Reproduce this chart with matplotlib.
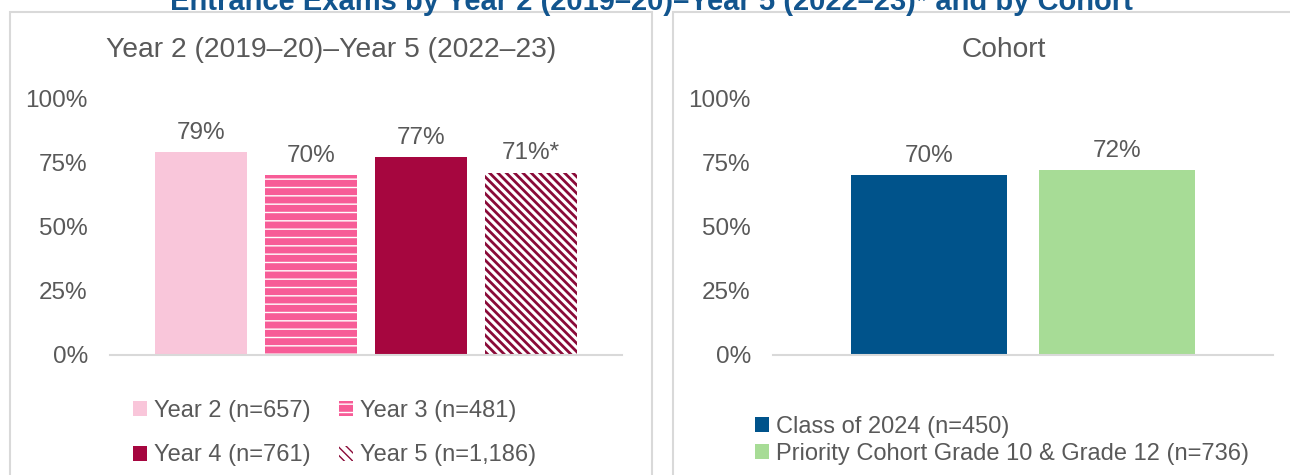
import matplotlib.pyplot as plt
from matplotlib.patches import Rectangle

plt.rcParams['font.family'] = ['Liberation Sans', 'DejaVu Sans']

# data
year_labels = ['Year 2 (n=657)', 'Year 3 (n=481)', 'Year 4 (n=761)', 'Year 5 (n=1,186)']
year_values = [0.79, 0.70, 0.77, 0.71]
year_text = ['79%', '70%', '77%', '71%*']

cohort_labels = ['Class of 2024 (n=450)', 'Priority Cohort Grade 10 & Grade 12 (n=736)']
cohort_values = [0.70, 0.72]
cohort_text = ['70%', '72%']

yticks = [0, 0.25, 0.5, 0.75, 1.0]
ytick_labels = ['0%', '25%', '50%', '75%', '100%']

GRAY = '#595959'
W, H = 1290, 475

fig = plt.figure(figsize=(12.9, 4.75), dpi=100)

# panel frames
for x0, x1 in [(10, 652), (673, 1340)]:
    fig.add_artist(Rectangle((x0 / W, -0.1), (x1 - x0) / W, 1.1 - 12 / H,
                             transform=fig.transFigure, fill=False,
                             ec='#D9D9D9', lw=1.5))

fig.text(651 / W, 1 - 2 / H,
         'Entrance Exams by Year 2 (2019\u201320)\u2013Year 5 (2022\u201323)* and by Cohort',
         ha='center', va='center', fontsize=21, fontweight='bold', color='#12558E')

bottom = 1 - 354.5 / H
height = 256 / H
ax1 = fig.add_axes([110 / W, bottom, 512 / W, height])
ax2 = fig.add_axes([773 / W, bottom, 500 / W, height])


def style(ax):
    for s in ['top', 'right', 'left']:
        ax.spines[s].set_visible(False)
    ax.spines['bottom'].set_color('#D9D9D9')
    ax.spines['bottom'].set_linewidth(1.5)
    ax.set_ylim(0, 1)
    ax.set_yticks(yticks)
    ax.set_yticklabels(ytick_labels)
    ax.tick_params(axis='y', length=0, pad=16, labelsize=17.5, labelcolor=GRAY)
    ax.set_xticks([])


# left panel
pos1 = [-1.5, -0.5, 0.5, 1.5]
face1 = ['#F9C6DA', '#F75C97', '#A6063F', 'white']
edge1 = ['#F9C6DA', 'white', '#A6063F', '#8A0A38']
hatch1 = [None, '--', None, '\\\\\\\\']
hatch_lw = [1, 1.0, 1, 2.0]
for p, v, fc, ec, hc, hl, lab in zip(pos1, year_values, face1, edge1, hatch1,
                                     hatch_lw, year_labels):
    b = ax1.bar(p, v, width=0.836, color=fc, edgecolor=ec, linewidth=0,
                hatch=hc, label=lab)
    for patch in b:
        patch.set_hatch_linewidth(hl)
for p, v, t in zip(pos1, year_values, year_text):
    ax1.annotate(t, (p, v), xytext=(0, 6), textcoords='offset points',
                 ha='center', va='bottom', fontsize=17.5, color=GRAY)
ax1.set_xlim(-256 / 110, 256 / 110)
style(ax1)

# right panel
pos2 = [-0.5, 0.5]
colors2 = ['#00538B', '#A7DC96']
for p, v, c, lab in zip(pos2, cohort_values, colors2, cohort_labels):
    ax2.bar(p, v, width=0.835, color=c, label=lab)
for p, v, t in zip(pos2, cohort_values, cohort_text):
    ax2.annotate(t, (p, v), xytext=(0, 6), textcoords='offset points',
                 ha='center', va='bottom', fontsize=17.5, color=GRAY)
ax2.set_xlim(-250 / 188, 250 / 188)
style(ax2)

# legends
h1, l1 = ax1.get_legend_handles_labels()
order = [0, 2, 1, 3]
leg1 = fig.legend([h1[i] for i in order], [l1[i] for i in order], ncol=2,
                  loc='upper left', bbox_to_anchor=(133 / W, 1 - 400 / H),
                  frameon=False, fontsize=17, handlelength=0.6, handleheight=0.6,
                  handletextpad=0.3, labelspacing=0.95, columnspacing=1.2,
                  borderpad=0, borderaxespad=0)
for t in leg1.get_texts():
    t.set_color(GRAY)

leg2 = fig.legend(loc='upper left', handles=ax2.get_legend_handles_labels()[0],
                  bbox_to_anchor=(755 / W, 1 - 416 / H),
                  frameon=False, fontsize=17, handlelength=0.6, handleheight=0.6,
                  handletextpad=0.3, labelspacing=0.2,
                  borderpad=0, borderaxespad=0)
for t in leg2.get_texts():
    t.set_color(GRAY)

fig.text(331 / W, 1 - 50 / H, 'Year 2 (2019\u201320)\u2013Year 5 (2022\u201323)',
         ha='center', va='center', fontsize=20.3, color=GRAY)
fig.text(1004 / W, 1 - 50 / H, 'Cohort', ha='center', va='center',
         fontsize=20.3, color=GRAY)

fig.savefig('out.png', dpi=100)
